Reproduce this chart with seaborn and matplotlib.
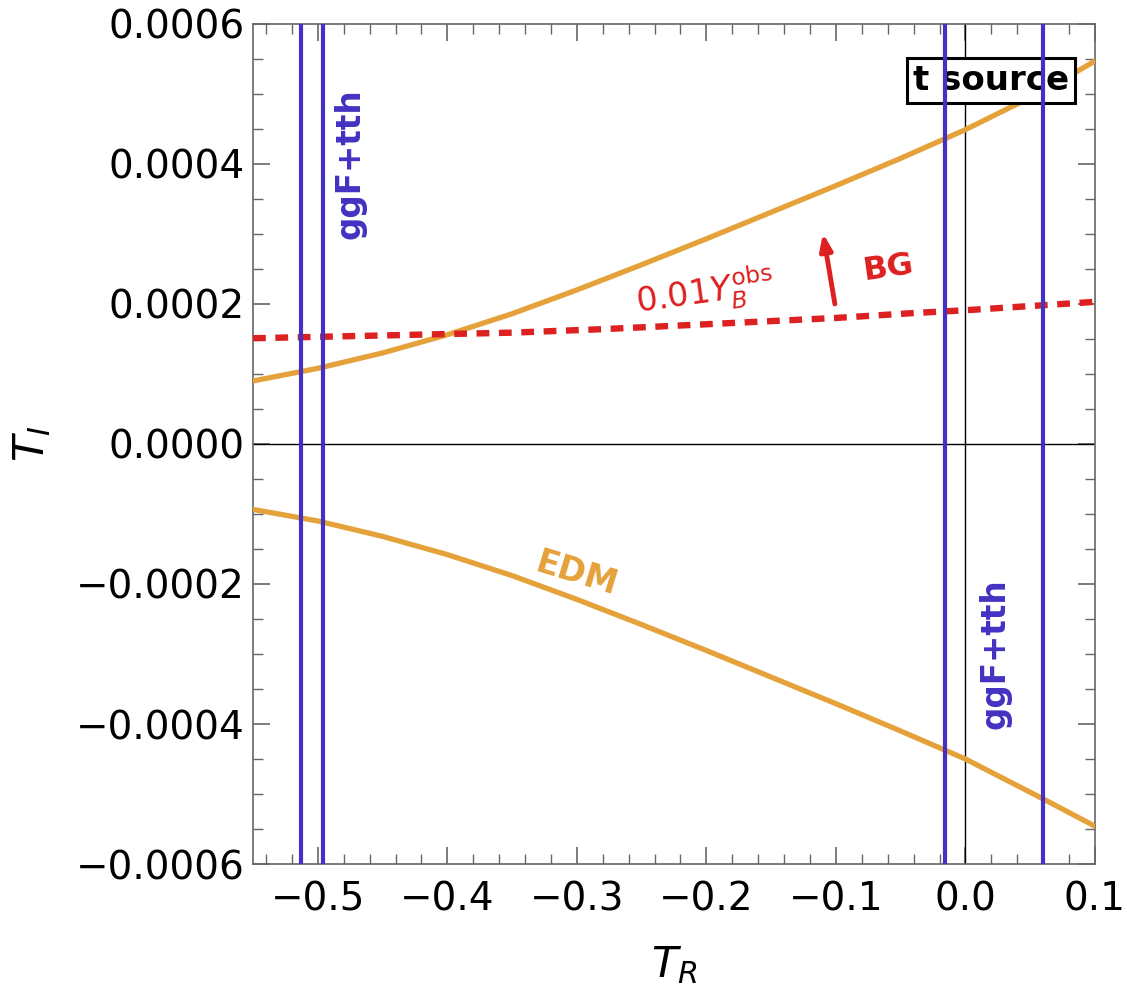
import numpy as np
import pandas as pd
import matplotlib
matplotlib.use("Agg")
import matplotlib.pyplot as plt
from matplotlib.ticker import MultipleLocator, FixedLocator
import seaborn as sns

# EDM bound on the imaginary part (upper and lower branch)
t_r = [-0.55, -0.5, -0.45, -0.4, -0.35, -0.3, -0.25, -0.2, -0.15, -0.1, -0.05, 0.0, 0.06, 0.1]
edm_upper = [0.000090, 0.000108, 0.000130, 0.000156, 0.000186, 0.000220, 0.000256,
             0.000293, 0.000331, 0.000369, 0.000408, 0.000449, 0.000504, 0.000547]
edm_lower = [-0.0000935, -0.000110, -0.000132, -0.000158, -0.000188, -0.000222, -0.000258,
             -0.000295, -0.000333, -0.000371, -0.000410, -0.000450, -0.000507, -0.000546]

# BG contour for 0.01 Y_B^obs
bg_tr = [-0.55, -0.45, -0.35, -0.28, -0.2, -0.1, -0.04, 0.0, 0.1]
bg_ti = [0.000151, 0.000155, 0.000159, 0.000164, 0.000171, 0.000180, 0.000187, 0.000191, 0.000203]

# ggF+tth exclusion boundaries
ggf_lines = [-0.513, -0.496, -0.016, 0.060]

x_ticks = [-0.5, -0.4, -0.3, -0.2, -0.1, 0.0, 0.1]
y_ticks = [-0.0006, -0.0004, -0.0002, 0.0, 0.0002, 0.0004, 0.0006]

orange = "#E5A13A"
blue = "#4332C2"
red = "#DD2020"

sns.set_theme(style="white")
plt.rcParams["font.family"] = ["DejaVu Sans"]
plt.rcParams["mathtext.fontset"] = "dejavusans"
plt.rcParams["text.color"] = "black"
plt.rcParams["axes.labelcolor"] = "black"
plt.rcParams["xtick.color"] = "#666666"
plt.rcParams["ytick.color"] = "#666666"
plt.rcParams["xtick.labelcolor"] = "black"
plt.rcParams["ytick.labelcolor"] = "black"

fig = plt.figure(figsize=(11.27, 9.96), dpi=100)
ax = fig.add_axes([0.2245, 0.1325, 0.7471, 0.8435])

edm = pd.DataFrame({"T_R": t_r * 2,
                    "T_I": edm_upper + edm_lower,
                    "branch": ["up"] * len(t_r) + ["down"] * len(t_r)})
bg = pd.DataFrame({"T_R": bg_tr, "T_I": bg_ti})

ax.axhline(0, color="black", lw=1.0, zorder=1)
ax.axvline(0, color="black", lw=1.0, zorder=1)

sns.lineplot(data=edm, x="T_R", y="T_I", units="branch", estimator=None,
             color=orange, lw=3.8, ax=ax, zorder=3)
sns.lineplot(data=bg, x="T_R", y="T_I", color=red, lw=4.6, ax=ax, zorder=4,
             linestyle=(0, (2.0, 1.5)))
for xv in ggf_lines:
    ax.axvline(xv, color=blue, lw=3.0, zorder=5)

ax.set_xlim(-0.55, 0.1)
ax.set_ylim(-0.0006, 0.0006)
ax.xaxis.set_major_locator(FixedLocator(x_ticks))
ax.yaxis.set_major_locator(FixedLocator(y_ticks))
ax.xaxis.set_minor_locator(MultipleLocator(0.02))
ax.yaxis.set_minor_locator(MultipleLocator(0.00005))
ax.set_xticklabels([f"{v:.1f}".replace("-", "\u2212") for v in x_ticks])
ax.set_yticklabels([f"{v:.4f}".replace("-", "\u2212") if v != 0 else "0.0000" for v in y_ticks])
ax.tick_params(which="both", direction="in", top=True, right=True, bottom=True, left=True,
               labelsize=28)
ax.tick_params(axis="x", which="major", pad=12)
ax.tick_params(axis="y", which="major", pad=6)
ax.tick_params(which="major", length=12, width=1.2)
ax.tick_params(which="minor", length=7, width=1.0)
for s in ax.spines.values():
    s.set_color("#666666")
    s.set_linewidth(1.2)

ax.set_xlabel("$T_R$", fontsize=31, labelpad=18)
ax.set_ylabel("$T_I$", fontsize=31, labelpad=16)

ax.text(-0.475, 0.000401, "ggF+tth", color=blue, rotation=90, fontsize=23.5,
        fontweight="bold", ha="center", va="center")
ax.text(0.0228, -0.000299, "ggF+tth", color=blue, rotation=90, fontsize=23.5,
        fontweight="bold", ha="center", va="center")
ax.text(0.0197, 0.000519, "t source", color="black", fontsize=24.5, fontweight="bold",
        ha="center", va="center",
        bbox=dict(boxstyle="square,pad=0.18", fc="white", ec="black", lw=2.2))
ax.text(-0.201, 0.000217, r"$0.01Y_B^{\mathrm{obs}}$", color=red, fontsize=24,
        rotation=8, ha="center", va="center")
ax.text(-0.060, 0.000251, "BG", color=red, fontsize=23, fontweight="bold",
        rotation=8, ha="center", va="center")
ax.annotate("", xy=(-0.110, 0.000301), xytext=(-0.1008, 0.000200),
            arrowprops=dict(arrowstyle="-|>,head_length=0.8,head_width=0.3",
                            color=red, lw=3.5, shrinkA=0, shrinkB=0))
ax.text(-0.300, -0.000186, "EDM", color=orange, fontsize=24, fontweight="bold",
        rotation=-17, ha="center", va="center")

fig.savefig("out.png", dpi=100, facecolor="white")
